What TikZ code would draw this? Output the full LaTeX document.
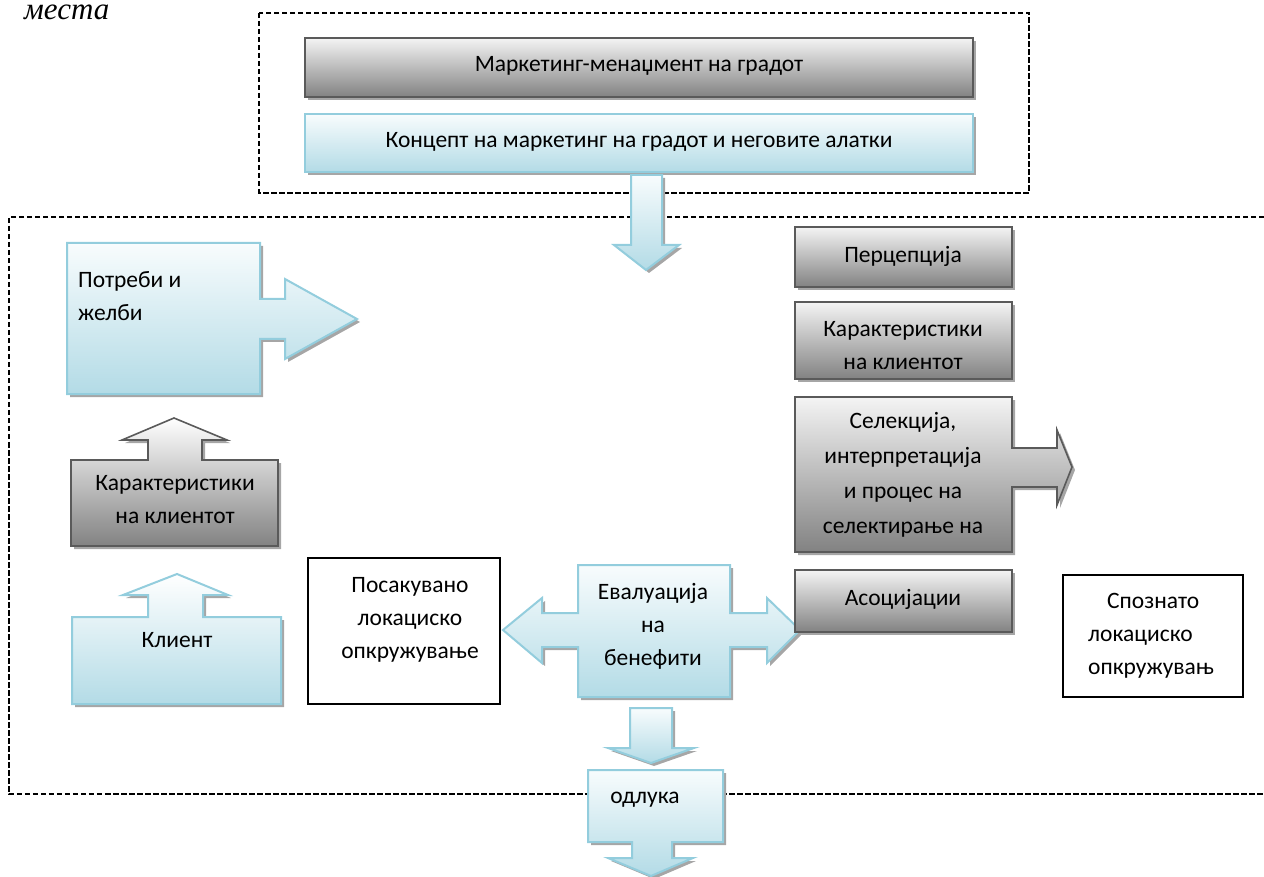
\documentclass[tikz,border=0pt]{standalone}
\usepackage{fontspec}
\setmainfont{Carlito}
\newfontfamily\serifit{Liberation Serif}
\usetikzlibrary{shadows}
\definecolor{gtop}{HTML}{F4F4F4}
\definecolor{gbot}{HTML}{828282}
\definecolor{gline}{HTML}{5A5A5A}
\definecolor{btop}{HTML}{F8FCFD}
\definecolor{bbot}{HTML}{B3DBE6}
\definecolor{bline}{HTML}{93CDDD}
\definecolor{shd}{HTML}{A6A6A6}
\tikzset{
  shadowed/.style={drop shadow={shadow xshift=3pt,shadow yshift=-3pt,fill=shd,opacity=1}},
  grayshape/.style={shadowed,draw=gline,line width=1.6pt,top color=gtop,bottom color=gbot,line join=miter},
  blueshape/.style={shadowed,draw=bline,line width=2pt,top color=btop,bottom color=bbot,line join=miter},
  whitebox/.style={draw=black,line width=1.5pt,fill=white},
  dashbox/.style={draw=black,line width=1.6pt,dash pattern=on 5.5pt off 2.5pt},
  txt/.style={font=\fontsize{23.5}{33}\selectfont,align=center,inner sep=0pt},
}
\begin{document}
\begin{tikzpicture}[x=1pt,y=-1pt]
\useasboundingbox (0,0) rectangle (1264,877);
% caption fragment
\node[anchor=base west,inner sep=0pt,font=\serifit\itshape\fontsize{31}{31}\selectfont] (mesta) at (24,20) {места};
% dashed frames
\draw[dashbox] (259,13) rectangle (1029,193);
\draw[dashbox] (1264,217) -- (9,217) -- (9,794) -- (1264,794);
% top boxes
\path[grayshape] (305,38) rectangle (973,97);
\node[txt] (mm) at (639,66) {Маркетинг-менаџмент на градот};
\path[blueshape] (305,114) rectangle (973,172);
\node[txt] (kc) at (639,142) {Концепт на маркетинг на градот и неговите алатки};
% top down arrow
\path[blueshape] (631,175) -- (662,175) -- (662,245) -- (679,245) -- (646,270) -- (614,245) -- (631,245) -- cycle;
% left column
\path[blueshape] (67,243) -- (260,243) -- (260,299) -- (285,299) -- (285,279) -- (357,319) -- (285,359) -- (285,339) -- (260,339) -- (260,394) -- (67,394) -- cycle;
\node[txt,align=left,anchor=west] (pz) at (78,296) {Потреби и\\желби};
\path[grayshape,top color=white] (71,460) -- (148,460) -- (148,440) -- (122,440) -- (174,418) -- (227,440) -- (202,440) -- (202,460) -- (278,460) -- (278,546) -- (71,546) -- cycle;
\node[txt] (kl) at (175,500) {Карактеристики\\на клиентот};
\path[blueshape,top color=white] (72,617) -- (148,617) -- (148,595) -- (123,595) -- (177,574) -- (228,595) -- (203,595) -- (203,617) -- (281,617) -- (281,704) -- (72,704) -- cycle;
\node[txt] (kli) at (177,640) {Клиент};
% desired environment
\path[whitebox] (308,558) rectangle (500,704);
\node[txt] (pos) at (410,620) {Посакувано\\локациско\\опкружување};
% evaluation
\path[blueshape] (578,565) -- (730,565) -- (730,613) -- (767,613) -- (767,598) -- (800,630) -- (767,663) -- (767,647) -- (730,647) -- (730,697) -- (578,697) -- (578,647) -- (542,647) -- (542,663) -- (503,630) -- (542,598) -- (542,613) -- (578,613) -- cycle;
\node[txt] (ev) at (653,626) {Евалуација\\на\\бенефити};
% down arrows and decision
\path[blueshape] (630,708) -- (672,708) -- (672,748) -- (694,748) -- (651,763) -- (608,748) -- (630,748) -- cycle;
\path[blueshape] (588,770) -- (723,770) -- (723,842) -- (672,842) -- (672,858) -- (693,858) -- (651,876) -- (608,858) -- (632,858) -- (632,842) -- (588,842) -- cycle;
\node[txt] (od) at (645,800) {одлука};
% right column
\path[grayshape] (795,227) rectangle (1012,287);
\node[txt] (per) at (903,256) {Перцепција};
\path[grayshape] (795,302) rectangle (1012,379);
\node[txt] (kr) at (903,346) {Карактеристики\\на клиентот};
\path[grayshape] (795,397) -- (1012,397) -- (1012,448) -- (1057,448) -- (1057,430) -- (1072,467) -- (1057,505) -- (1057,487) -- (1012,487) -- (1012,552) -- (795,552) -- cycle;
\node[txt,font=\fontsize{23.5}{35}\selectfont] (sel) at (903,475) {Селекција,\\интерпретација\\и процес на\\селектирање на};
\path[grayshape] (795,570) rectangle (1012,632);
\node[txt] (as) at (903,599) {Асоцијации};
% perceived environment
\path[whitebox] (1063,575) rectangle (1243,697);
\node[txt,align=left,anchor=west] (sp) at (1088,636) {\hspace*{19pt}Спознато\\локациско\\опкружувањ};
\end{tikzpicture}
\end{document}
